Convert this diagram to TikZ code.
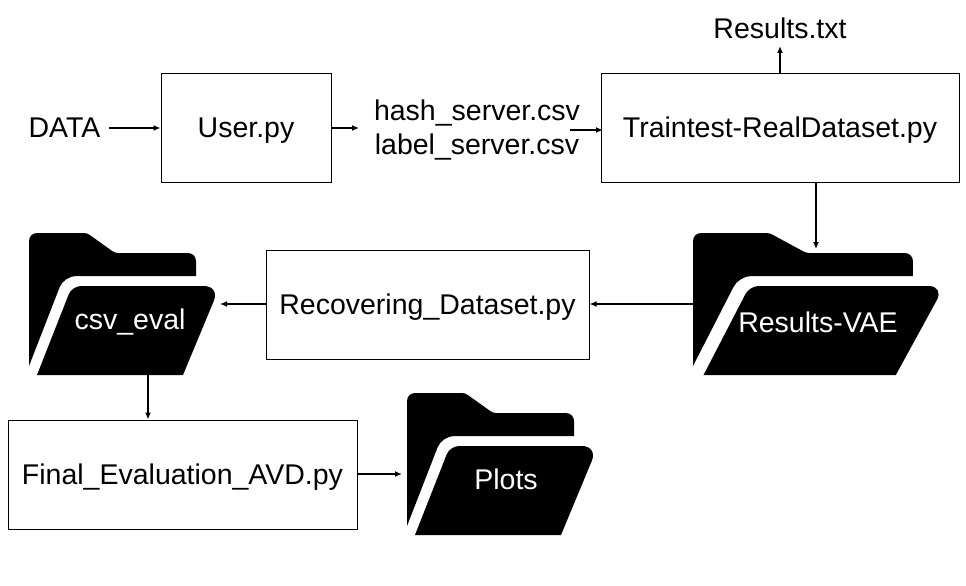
\documentclass[tikz,border=0pt]{standalone}
\usepackage{fontspec}
\setmainfont{Liberation Sans}
\usetikzlibrary{arrows.meta}

\tikzset{
  scriptbox/.style={draw,line width=1pt,minimum height=109pt,inner sep=0pt,text height=20.5pt,text depth=0pt,font=\fontsize{28.5}{34}\selectfont},
  plaintext/.style={inner sep=0pt,align=center,font=\fontsize{28.5}{34}\selectfont},
  foldertext/.style={inner sep=0pt,text=white,font=\fontsize{28.5}{34}\selectfont},
  flow/.style={line width=1.5pt,-{Latex[length=7pt,width=6pt]}},
  folder/.pic={
    % back of the folder
    \fill[rounded corners=8pt] (0,133) -- (0,0) [rounded corners=3pt] -- (58,0) -- (86,20) [rounded corners=8pt] -- (167,20)
      [sharp corners] -- (167,43) [rounded corners=12pt] -- (35,43) [sharp corners] -- (0,133) -- cycle;
    % front of the folder
    \fill[rounded corners=9pt] (8,142) [sharp corners] -- (154,142) [rounded corners=16pt] -- (191,53) [rounded corners=9pt] -- (43,53) [sharp corners] -- cycle;
  }
}

\begin{document}
\begin{tikzpicture}[x=1pt,y=-1pt]
  \useasboundingbox (0,0) rectangle (966,586);

  % first row
  \node[plaintext] (data) at (64.5,128) {DATA};
  \node[scriptbox,minimum width=170pt] (user) at (246,127.5) {User.py};
  \node[plaintext] (hash) at (477,130.5) {hash\_server.csv\\label\_server.csv};
  \node[scriptbox,minimum width=358pt] (traintest) at (780,127.5) {Traintest-RealDataset.py};
  \node[plaintext] (results) at (780,28) {Results.txt};

  % folders
  \pic at (29,233) {folder};
  \pic[xscale=1.317] at (693,233) {folder};
  \pic at (407,393) {folder};
  \node[foldertext] (csveval) at (130,322) {csv\_eval};
  \node[foldertext] (resultsvae) at (818,322) {Results-VAE};
  \node[foldertext] (plots) at (506,479) {Plots};

  % lower boxes
  \node[scriptbox,minimum width=323pt] (recovering) at (427.5,304.5) {Recovering\_Dataset.py};
  \node[scriptbox,minimum width=349pt] (final) at (182.5,474.5) {Final\_Evaluation\_AVD.py};

  % free ends of the arrows
  \coordinate (datain) at (109,128);
  \coordinate (hashin) at (359,128);
  \coordinate (hashout) at (570,130);
  \coordinate (trainin) at (603,130);
  \coordinate (resultsin) at (780,46);
  \coordinate (vaein) at (816,249);
  \coordinate (vaeout) at (693,304);
  \coordinate (csvin) at (220,304);
  \coordinate (csvout) at (148,375);
  \coordinate (plotsin) at (402,474);

  % arrows
  \draw[flow] (datain) -- (user.west |- datain);
  \draw[flow] (user.east |- hashin) -- (hashin);
  \draw[flow] (hashout) -- (trainin);
  \draw[flow] (traintest.north -| resultsin) -- (resultsin);
  \draw[flow] (traintest.south -| vaein) -- (vaein);
  \draw[flow] (vaeout) -- (recovering.east |- vaeout);
  \draw[flow] (recovering.west |- csvin) -- (csvin);
  \draw[flow] (csvout) -- (final.north -| csvout);
  \draw[flow] (final.east |- plotsin) -- (plotsin);
\end{tikzpicture}
\end{document}
